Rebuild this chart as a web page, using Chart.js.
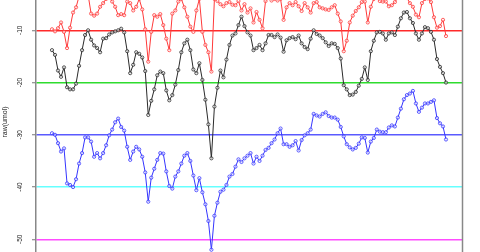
<!DOCTYPE html>
<html>
<head>
<meta charset="utf-8">
<script src="https://cdn.jsdelivr.net/npm/chart.js@4/dist/chart.umd.min.js"></script>
<style>
  html, body { margin: 0; padding: 0; background: #fff; }
  #wrap { width: 480px; height: 252px; position: relative; }
</style>
</head>
<body>
<div id="wrap"><canvas id="chart"></canvas></div>
<script>
// sample index (x)
const samples = [
  1,2,3,4,5,6,7,8,9,10,11,12,13,14,15,16,17,18,19,20,
  21,22,23,24,25,26,27,28,29,30,31,32,33,34,35,36,37,38,39,40,
  41,42,43,44,45,46,47,48,49,50,51,52,53,54,55,56,57,58,59,60,
  61,62,63,64,65,66,67,68,69,70,71,72,73,74,75,76,77,78,79,80,
  81,82,83,84,85,86,87,88,89,90,91,92,93,94,95,96,97,98,99,100,
  101,102,103,104,105,106,107,108,109,110,111,112,113,114,115,116,117,118,119,120,
  121,122,123,124,125,126,127,128,129,130,131,132
];

// red trace
const redVals = [
  -9.8,-10.2,-9.6,-8.5,-10.3,-13.4,-9.5,-6.6,-5.6,-3.5,
  -2.5,-2.3,-3.2,-6.8,-7.2,-6.8,-5.5,-4.8,-4.0,-3.6,
  -4.5,-5.5,-7.1,-6.9,-7.1,-4.5,-4.8,-6.2,-5.5,-4.0,
  -6.0,-9.8,-16.0,-10.3,-7.1,-7.4,-6.9,-9.0,-11.6,-13.8,
  -6.8,-6.2,-4.5,-4.0,-5.6,-7.4,-9.3,-10.3,-6.2,-4.0,
  -10.3,-12.8,-14.2,-17.9,-4.0,-4.4,-5.0,-5.4,-4.8,-4.6,
  -5.1,-5.2,-4.4,-6.2,-5.0,-6.6,-5.8,-8.5,-6.5,-8.0,
  -9.6,-4.4,-3.8,-4.3,-4.0,-4.3,-4.0,-8.0,-5.6,-4.8,
  -5.2,-4.6,-5.4,-6.3,-4.8,-5.6,-6.6,-4.8,-4.6,-5.6,
  -5.8,-6.0,-6.1,-5.6,-5.2,-6.8,-8.3,-14.0,-12.0,-8.5,
  -7.2,-6.3,-5.6,-4.6,-4.5,-8.5,-5.5,-4.0,-3.8,-4.4,
  -4.5,-4.5,-5.4,-5.2,-4.6,-3.8,-3.4,-3.5,-3.8,-4.8,
  -5.5,-7.0,-7.5,-4.8,-4.0,-3.9,-4.6,-7.5,-9.5,-9.2,
  -8.0,-11.1
];

// black trace
const blackVals = [
  -13.8,-14.7,-17.7,-18.9,-17.1,-20.9,-21.3,-21.3,-20.2,-16.8,
  -13.8,-10.9,-10.0,-11.8,-12.9,-13.4,-14.2,-11.6,-11.5,-10.8,
  -10.4,-10.2,-10.0,-9.7,-10.4,-14.0,-18.2,-16.6,-14.2,-14.5,
  -15.2,-17.8,-26.2,-23.5,-21.3,-18.6,-17.9,-18.2,-21.5,-23.4,
  -22.4,-20.4,-17.6,-14.2,-12.5,-11.8,-13.8,-17.5,-18.2,-16.3,
  -19.5,-23.3,-28.0,-34.5,-24.6,-21.0,-17.7,-19.0,-15.6,-12.8,
  -11.0,-10.6,-9.0,-7.4,-9.2,-10.4,-11.0,-13.8,-13.4,-12.8,
  -13.8,-12.5,-10.9,-10.9,-11.3,-10.8,-11.4,-14.1,-11.9,-11.5,
  -11.3,-11.7,-11.0,-12.5,-13.2,-13.6,-11.6,-10.0,-10.7,-11.0,
  -11.5,-12.3,-13.0,-12.5,-12.6,-13.4,-15.4,-20.5,-21.3,-22.4,
  -22.3,-21.8,-20.6,-19.3,-17.1,-19.5,-14.0,-12.0,-10.4,-10.3,
  -10.6,-11.8,-10.6,-10.4,-10.9,-9.3,-7.7,-6.6,-6.5,-7.7,
  -8.6,-10.6,-11.8,-10.6,-9.4,-9.6,-10.3,-11.8,-15.5,-17.0,
  -18.2,-20.0
];

// blue trace
const blueVals = [
  -29.7,-30.0,-31.6,-33.2,-32.6,-39.3,-39.6,-40.0,-38.5,-35.5,
  -33.5,-30.5,-30.5,-31.3,-34.2,-33.5,-34.5,-33.5,-32.0,-30.1,
  -29.0,-27.6,-26.9,-28.5,-29.2,-32.3,-34.8,-33.2,-32.3,-32.8,
  -34.2,-37.2,-42.8,-38.2,-36.5,-34.8,-33.5,-33.6,-37.0,-39.8,
  -40.3,-38.0,-37.0,-35.5,-34.0,-33.5,-35.0,-37.8,-40.6,-38.3,
  -41.0,-43.3,-46.5,-52.0,-45.5,-43.0,-40.9,-40.5,-39.6,-38.0,
  -37.5,-36.1,-34.7,-35.2,-34.5,-34.0,-33.5,-35.5,-34.2,-35.0,
  -34.0,-32.9,-32.5,-31.6,-30.9,-29.7,-28.8,-31.8,-31.8,-32.3,
  -32.0,-31.2,-33.0,-31.0,-30.1,-29.7,-29.0,-26.0,-26.3,-26.5,
  -26.0,-25.7,-26.4,-26.7,-26.7,-27.1,-28.5,-30.3,-31.8,-32.4,
  -32.8,-32.5,-31.7,-30.5,-30.6,-33.4,-31.3,-30.6,-29.0,-29.4,
  -29.5,-29.5,-28.6,-28.2,-28.4,-26.7,-25.0,-23.2,-22.4,-22.1,
  -21.6,-24.0,-25.6,-24.8,-24.0,-24.0,-23.7,-23.4,-26.8,-27.8,
  -28.4,-30.9
];

// y axis ticks / reference lines
const yTicks = [-50, -40, -30, -20, -10];
const yTitle = 'raw(umol)';

const refColor = { '-10': '#ff2a2a', '-20': '#2edc2e', '-30': '#5a5aff', '-40': '#66ffff', '-50': '#ff4cff' };

function series(vals, col) {
  return {
    data: vals,
    borderColor: col,
    borderWidth: 1,
    pointRadius: 1.6,
    pointBorderWidth: 0.8,
    pointBorderColor: col,
    pointBackgroundColor: 'rgba(255,255,255,0.5)',
    tension: 0,
    fill: false
  };
}

// side frame line, rotated tick labels and axis title
const framePlugin = {
  id: 'frame',
  afterDraw(chart) {
    const c = chart.ctx, a = chart.chartArea, y = chart.scales.y;
    c.save();
    c.strokeStyle = '#888';
    c.lineWidth = 1.5;
    c.beginPath();
    c.moveTo(a.right + 0.5, a.top);
    c.lineTo(a.right + 0.5, a.bottom);
    c.stroke();

    c.fillStyle = '#222';
    c.textAlign = 'center';
    c.textBaseline = 'middle';
    c.font = '6.5px "Liberation Sans", Arial, sans-serif';
    yTicks.forEach(v => {
      c.save();
      c.translate(20.5, y.getPixelForValue(v));
      c.rotate(-Math.PI / 2);
      c.fillText(String(v), 0, 0);
      c.restore();
    });
    c.font = '7px "Liberation Sans", Arial, sans-serif';
    c.translate(5.5, 122);
    c.rotate(-Math.PI / 2);
    c.fillText(yTitle, 0, 0);
    c.restore();
  }
};

new Chart(document.getElementById('chart'), {
  type: 'line',
  data: {
    labels: samples,
    datasets: [series(blackVals, '#2a2a2a'), series(redVals, '#ff3a3a'), series(blueVals, '#3535ff')]
  },
  options: {
    responsive: true,
    maintainAspectRatio: false,
    animation: false,
    layout: { autoPadding: false, padding: { left: 0, right: 18, top: 0, bottom: 0 } },
    plugins: { legend: { display: false }, tooltip: { enabled: false } },
    scales: {
      x: { type: 'linear', min: -4.32, max: 137.32, display: false },
      y: {
        min: -52.43,
        max: -4.2,
        afterFit(s) { s.width = 36; },
        afterBuildTicks(s) { s.ticks = yTicks.map(v => ({ value: v })); },
        ticks: { display: false },
        grid: {
          color: ctx => refColor[String(ctx.tick && ctx.tick.value)] || 'rgba(0,0,0,0)',
          lineWidth: 1.5,
          drawTicks: true,
          tickLength: 4,
          tickColor: '#777',
          tickWidth: 1
        },
        border: { color: '#888', width: 1.5 }
      }
    }
  },
  plugins: [framePlugin]
});
</script>
</body>
</html>
